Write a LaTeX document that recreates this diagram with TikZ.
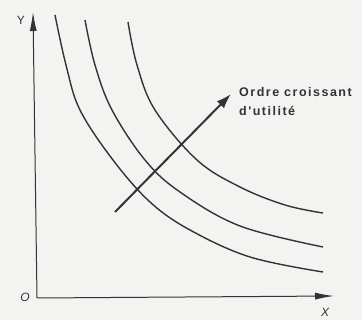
\documentclass[tikz,border=0pt]{standalone}
\usepackage{fontspec}
\setsansfont{Liberation Sans}
\newfontfamily\lblfont[LetterSpace=12]{Liberation Sans}
\usetikzlibrary{arrows.meta}
\definecolor{paper}{HTML}{F3F3F2}
\definecolor{ink}{HTML}{333333}
\tikzset{
  axis/.style={draw=ink, line width=1pt, -{Latex[length=19pt,width=7pt]}},
  icurve/.style={draw=ink, line width=1.4pt},
  growth/.style={draw=ink, line width=2pt, -{Latex[length=15pt,width=10pt]}},
  lbl/.style={text=ink, inner sep=0pt, font=\lblfont\bfseries\fontsize{12.5}{14}\selectfont, align=left},
  axlbl/.style={text=ink, inner sep=0pt, font=\sffamily\fontsize{12}{13}\selectfont}
}
\begin{document}
\begin{tikzpicture}[x=1pt,y=-1pt]
\fill[paper] (0,0) rectangle (362,320);
\useasboundingbox (0,0) rectangle (362,320);
\clip (0,0) rectangle (362,320);
% axes
\coordinate (O) at (37,298);
\coordinate (Ytip) at (33,12);
\coordinate (Xtip) at (334,296);
\draw[axis] (O) -- (Ytip);
\draw[axis] (O) -- (Xtip);
\node[axlbl] (ylab) at (21,20) {Y};
\node[axlbl, font=\sffamily\itshape\fontsize{12}{13}\selectfont] (olab) at (25,297) {O};
\node[axlbl, font=\sffamily\itshape\fontsize{12}{13}\selectfont] (xlab) at (325,312) {X};
% indifference curves
\draw[icurve] plot[smooth, tension=0.6] coordinates {(55,15) (66,65) (80,110) (113,160) (150,202) (190,230) (250,257) (323,272)};
\draw[icurve] plot[smooth, tension=0.6] coordinates {(85,20) (95,65) (112,110) (145,160) (180,192) (240,226) (323,247)};
\draw[icurve] plot[smooth, tension=0.6] coordinates {(128,22) (137,65) (155,110) (197,160) (240,187) (285,205) (323,213)};
% growth arrow
\coordinate (gs) at (115,212);
\coordinate (ge) at (231,94);
\draw[growth] (gs) -- (ge);
\node[lbl, anchor=west] (t1) at (239,92) {Ordre croissant};
\node[lbl, anchor=west] (t2) at (239,111) {d'utilité};
\end{tikzpicture}
\end{document}
